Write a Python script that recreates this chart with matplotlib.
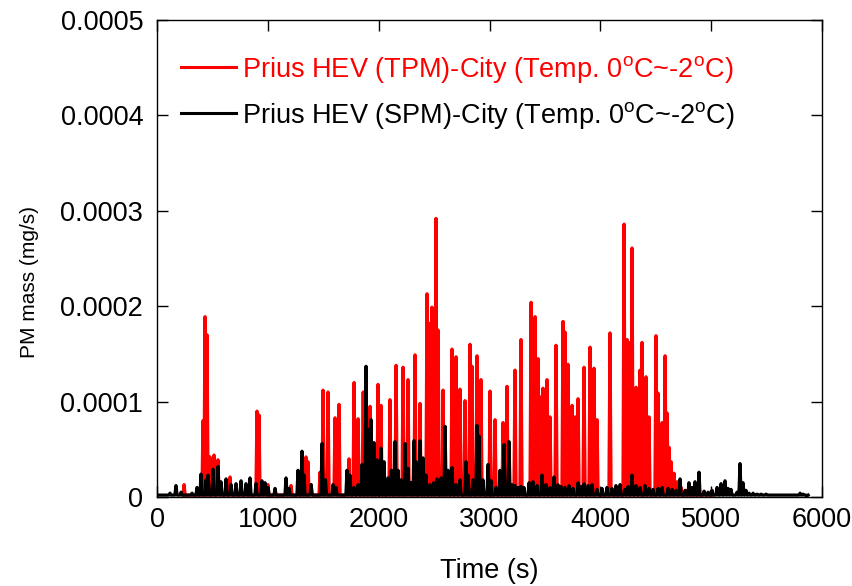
import numpy as np
import matplotlib
matplotlib.use("Agg")
import matplotlib.pyplot as plt
from matplotlib.ticker import FixedLocator, FixedFormatter

# DATA (peak values, PM mass in 1e-5 mg/s)
SCALE = 1e-5
BASE_LEVEL = 0.2  # resting level between spikes, 1e-5 mg/s

tpm_time = [244, 415, 433, 451, 478, 514, 550, 659, 902, 920, 1000, 1209,
            1344, 1362, 1390, 1471, 1498, 1543, 1606, 1642, 1732, 1778, 1814,
            1860, 1922, 1994, 2021, 2102, 2157, 2220, 2265, 2328, 2373, 2436,
            2463, 2481, 2517, 2536, 2581, 2662, 2698, 2734, 2779, 2824, 2842,
            2887, 2923, 3005, 3050, 3122, 3158, 3230, 3284, 3375, 3411, 3438,
            3456, 3483, 3519, 3546, 3600, 3663, 3681, 3708, 3745, 3772, 3799,
            3853, 3907, 3943, 3970, 4087, 4214, 4241, 4259, 4286, 4322, 4358,
            4376, 4412, 4439, 4502, 4520, 4557, 4584, 4602, 4620, 4638, 4665,
            4692, 4728, 4782, 4936, 5000]
tpm_value = [1.3, 8.0, 18.9, 17.0, 4.2, 4.4, 3.9, 2.1, 9.0, 8.6, 1.3, 1.2,
             4.2, 3.7, 1.3, 2.6, 11.2, 11.0, 8.3, 9.7, 4.0, 12.0, 8.2,
             11.0, 9.5, 11.8, 9.6, 10.2, 13.8, 13.6, 12.3, 14.9, 9.8, 21.3,
             18.2, 19.9, 29.2, 17.5, 11.2, 15.5, 14.7, 11.3, 10.1, 16.0, 13.7,
             14.8, 12.3, 11.1, 8.1, 7.8, 11.6, 13.3, 16.5, 20.4, 18.9, 14.5,
             10.5, 11.4, 12.3, 8.4, 15.9, 18.4, 17.3, 13.9, 9.6, 8.4, 10.3,
             13.6, 15.7, 13.5, 8.1, 17.2, 28.6, 16.5, 16.2, 26.1, 11.5, 13.3,
             16.2, 12.6, 8.4, 16.9, 10.9, 7.8, 14.8, 8.8, 5.2, 3.7, 2.5,
             1.6, 1.0, 0.7, 0.6, 0.6]

spm_time = [27, 117, 171, 217, 316, 361, 397, 442, 460, 505, 550, 577, 623,
            668, 713, 758, 803, 839, 893, 947, 974, 1002, 1065, 1164, 1191,
            1272, 1308, 1326, 1390, 1444, 1489, 1520, 1588, 1615, 1714, 1741,
            1778, 1814, 1850, 1886, 1913, 1931, 1958, 1985, 2021, 2048, 2084,
            2115, 2147, 2175, 2202, 2238, 2265, 2292, 2319, 2337, 2373, 2400,
            2427, 2463, 2495, 2526, 2563, 2599, 2626, 2662, 2698, 2734, 2788,
            2806, 2851, 2887, 2905, 2941, 2987, 3014, 3059, 3095, 3131, 3176,
            3203, 3230, 3257, 3284, 3311, 3357, 3393, 3429, 3474, 3510, 3546,
            3582, 3618, 3645, 3681, 3717, 3753, 3799, 3826, 3853, 3889, 3925,
            3970, 4015, 4060, 4105, 4141, 4178, 4223, 4250, 4286, 4322, 4358,
            4403, 4439, 4475, 4520, 4557, 4611, 4647, 4683, 4719, 4764, 4800,
            4827, 4854, 4890, 4936, 4972, 5008, 5053, 5089, 5125, 5152, 5179,
            5233, 5260, 5287, 5314, 5342, 5378, 5414, 5450, 5495, 5540, 5585,
            5703, 5802, 5829, 5865]
spm_value = [0.2, 0.4, 1.2, 0.5, 0.4, 1.0, 2.4, 1.8, 2.3, 2.9, 3.2, 1.6, 1.9,
             1.3, 1.4, 1.7, 1.4, 2.0, 1.4, 1.7, 1.5, 1.0, 0.9, 2.0, 0.9,
             2.8, 4.8, 2.3, 1.3, 0.2, 5.6, 1.8, 1.3, 1.0, 2.8, 2.3,
             1.0, 1.3, 3.4, 13.7, 7.1, 8.1, 5.7, 3.9, 5.1, 3.7, 2.0,
             2.8, 5.8, 2.8, 1.8, 5.6, 3.0, 1.5, 5.9, 3.7, 5.9, 4.1,
             2.3, 1.3, 1.5, 1.9, 2.0, 7.4, 2.8, 3.1, 1.3, 1.8, 3.7,
             2.3, 1.8, 7.5, 6.4, 1.8, 3.4, 1.7, 1.0, 2.8, 5.5, 5.8,
             1.3, 1.2, 1.0, 1.1, 1.0, 1.5, 1.6, 1.2, 2.3, 1.3, 1.0,
             2.1, 1.3, 1.1, 1.0, 1.2, 0.9, 1.5, 1.1, 1.4, 1.2, 1.3,
             0.8, 0.9, 1.0, 0.9, 1.2, 1.3, 0.8, 1.1, 2.3, 1.2, 1.0,
             1.2, 0.9, 0.8, 0.9, 1.0, 0.9, 0.8, 0.7, 1.9, 0.7, 1.5,
             1.0, 1.6, 2.6, 0.6, 0.5, 0.7, 1.0, 1.4, 1.7, 0.9, 0.8,
             0.5, 3.5, 1.5, 0.7, 0.4, 0.4, 0.3, 0.3, 0.3, 0.2, 0.2,
             0.2, 0.4, 0.3, 0.1]

x_ticks = [0, 1000, 2000, 3000, 4000, 5000, 6000]
y_ticks = [0, 0.0001, 0.0002, 0.0003, 0.0004, 0.0005]
y_tick_labels = ["0", "0.0001", "0.0002", "0.0003", "0.0004", "0.0005"]

tpm_label = "Prius HEV (TPM)-City (Temp. 0$^{\\mathrm{o}}$C~-2$^{\\mathrm{o}}$C)"
spm_label = "Prius HEV (SPM)-City (Temp. 0$^{\\mathrm{o}}$C~-2$^{\\mathrm{o}}$C)"

# STYLE
plt.rcParams['font.family'] = ['Liberation Sans', 'DejaVu Sans']
plt.rcParams['mathtext.fontset'] = 'custom'
plt.rcParams['mathtext.rm'] = 'Liberation Sans'
HALF_WIDTH = 10  # seconds, spike half width


def spikes(times, values):
    # each reading becomes a narrow spike rising from the resting level
    xs, ys = [], []
    for t, v in zip(times, values):
        xs += [t - HALF_WIDTH, t, t + HALF_WIDTH]
        ys += [BASE_LEVEL, v, BASE_LEVEL]
    return np.array(xs), np.array(ys) * SCALE


fig = plt.figure(figsize=(8.52, 5.86), dpi=100)
ax = fig.add_axes([0.1843, 0.1519, 0.7805, 0.8140])

tx, ty = spikes(tpm_time, tpm_value)
sx, sy = spikes(spm_time, spm_value)
ax.plot(tx, ty, color='#ff0000', lw=2.3, label=tpm_label)
ax.plot(sx, sy, color='black', lw=2.3, label=spm_label)

ax.set_xlim(0, 6000)
ax.set_ylim(0, 0.0005)
ax.xaxis.set_major_locator(FixedLocator(x_ticks))
ax.yaxis.set_major_locator(FixedLocator(y_ticks))
ax.yaxis.set_major_formatter(FixedFormatter(y_tick_labels))
ax.tick_params(direction='in', length=8, width=1.0, top=True, right=True,
               labelsize=19.5)
ax.tick_params(axis='x', pad=7)
ax.tick_params(axis='y', pad=10)
for sp in ax.spines.values():
    sp.set_linewidth(1.0)

ax.set_xlabel("Time (s)", fontsize=19.5, labelpad=18)
ax.set_ylabel("PM mass (mg/s)", fontsize=15)
ax.yaxis.set_label_coords(-0.178, 0.45)

leg = ax.legend(loc='upper left', bbox_to_anchor=(0.0, 0.98), frameon=False,
                fontsize=19.5, handlelength=2.0, handletextpad=0.25,
                labelspacing=0.55, labelcolor='linecolor')
for line in leg.get_lines():
    line.set_linewidth(2.2)

fig.savefig("out.png", dpi=100)
